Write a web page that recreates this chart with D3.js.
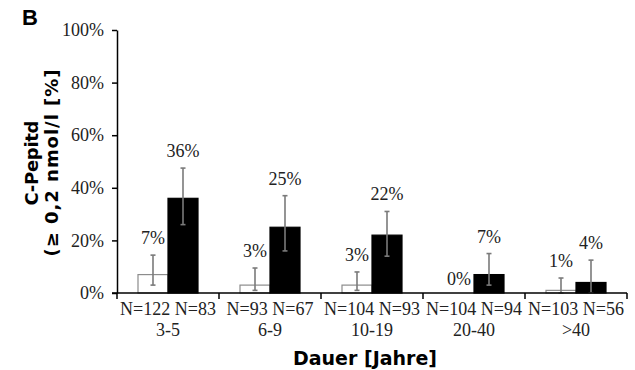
<!DOCTYPE html>
<meta charset="utf-8">
<style>
    body { margin: 0; background: #fff; }
    svg { display: block; }
    .tick text, .lbl, .cat { font-family: "Liberation Serif", "Times New Roman", serif; fill: #222; }
    .title { font-family: "DejaVu Sans", Verdana, sans-serif; font-weight: bold; fill: #000; }
    .axis path, .axis line { stroke: #000; stroke-width: 1.5; }
</style>
<body>
<script src="https://cdn.jsdelivr.net/npm/d3@7"></script>
<script>
    // data
    var categories = ["3-5", "6-9", "10-19", "20-40", ">40"];
    var nWhite = [122, 93, 104, 104, 103];
    var nBlack = [83, 67, 93, 94, 56];
    var valWhite = [7, 3, 3, 0, 1];
    var valBlack = [36, 25, 22, 7, 4];
    var errWhiteLo = [3, 1, 1, 0, 0];
    var errWhiteHi = [14.4, 9.5, 8, 0, 5.7];
    var errBlackLo = [26, 16, 14, 3, 0];
    var errBlackHi = [47.5, 37, 31, 15, 12.5];
    var yTicks = [0, 20, 40, 60, 80, 100];

    var width = 635, height = 370;
    var mLeft = 117, mRight = 627, mTop = 30, mBottom = 293;

    var svg = d3.select("body").append("svg")
        .attr("width", width)
        .attr("height", height);

    var x0 = d3.scaleBand().domain(categories).range([mLeft, mRight]);
    var x1 = d3.scaleBand().domain(["w", "b"]).range([0, x0.bandwidth()])
        .paddingInner(0).paddingOuter(0.7);
    var y = d3.scaleLinear().domain([0, 100]).range([mBottom, mTop]);

    var rows = categories.map(function(c, i) {
        return {
            cat: c,
            bars: [
                {key: "w", v: valWhite[i], lo: errWhiteLo[i], hi: errWhiteHi[i]},
                {key: "b", v: valBlack[i], lo: errBlackLo[i], hi: errBlackHi[i]}
            ],
            label: "N=" + nWhite[i] + " N=" + nBlack[i]
        };
    });

    var g = svg.selectAll("g.grp").data(rows).enter().append("g")
        .attr("class", "grp")
        .attr("transform", function(d) { return "translate(" + x0(d.cat) + ",0)"; });

    var bar = g.selectAll("g.bar").data(function(d) { return d.bars; }).enter().append("g");

    bar.append("rect")
        .attr("x", function(d) { return x1(d.key); })
        .attr("y", function(d) { return y(d.v); })
        .attr("width", x1.bandwidth())
        .attr("height", function(d) { return y(0) - y(d.v); })
        .attr("fill", function(d) { return d.key == "w" ? "#fff" : "#000"; })
        .attr("stroke", function(d) { return d.key == "w" ? "#8c8c8c" : "#000"; })
        .attr("stroke-width", 1.2);

    // error bars
    var eb = bar.filter(function(d) { return d.hi > d.lo; });
    var cx = function(d) { return x1(d.key) + x1.bandwidth() / 2; };
    eb.append("line")
        .attr("x1", cx).attr("x2", cx)
        .attr("y1", function(d) { return y(d.lo); })
        .attr("y2", function(d) { return y(d.hi); })
        .attr("stroke", "#7a7a7a").attr("stroke-width", 1.6);
    ["lo", "hi"].forEach(function(k) {
        eb.append("line")
            .attr("x1", function(d) { return cx(d) - 2.5; })
            .attr("x2", function(d) { return cx(d) + 2.5; })
            .attr("y1", function(d) { return y(d[k]); })
            .attr("y2", function(d) { return y(d[k]); })
            .attr("stroke", "#7a7a7a").attr("stroke-width", 1.6);
    });

    bar.append("text")
        .attr("class", "lbl")
        .attr("x", cx)
        .attr("y", function(d) { return y(Math.max(d.hi, d.v)) - (d.hi > 0 ? 11 : 8); })
        .attr("text-anchor", "middle")
        .style("font-size", "18px")
        .text(function(d) { return d.v + "%"; });

    // y axis
    var yAxis = d3.axisLeft(y).tickValues(yTicks).tickSize(5).tickSizeOuter(0)
        .tickFormat(function(d) { return d + "%"; });
    var ya = svg.append("g").attr("class", "axis")
        .attr("transform", "translate(" + mLeft + ",0)")
        .call(yAxis);
    ya.selectAll(".tick text").attr("x", -13).style("font-size", "18px");

    // x axis with ticks between categories
    var xa = svg.append("g").attr("class", "axis");
    xa.append("line")
        .attr("x1", mLeft - 5).attr("x2", mRight)
        .attr("y1", y(0)).attr("y2", y(0));
    var bounds = categories.map(function(c) { return x0(c); }).concat([mRight]);
    xa.selectAll("line.xt").data(bounds).enter().append("line")
        .attr("x1", function(d) { return d; }).attr("x2", function(d) { return d; })
        .attr("y1", y(0)).attr("y2", y(0) + 6);

    var cl = svg.selectAll("text.cat").data(rows).enter().append("text")
        .attr("class", "cat")
        .attr("text-anchor", "middle")
        .style("font-size", "18px");
    cl.append("tspan")
        .attr("x", function(d) { return x0(d.cat) + x0.bandwidth() / 2; })
        .attr("y", 315)
        .text(function(d) { return d.label; });
    cl.append("tspan")
        .attr("x", function(d) { return x0(d.cat) + x0.bandwidth() / 2; })
        .attr("y", 336)
        .text(function(d) { return d.cat; });

    // titles
    svg.append("text").attr("class", "title")
        .attr("x", 365).attr("y", 365)
        .attr("text-anchor", "middle")
        .style("font-size", "19px")
        .text("Dauer [Jahre]");

    var yt = svg.append("text").attr("class", "title")
        .attr("transform", "translate(0,163) rotate(-90)")
        .attr("text-anchor", "middle")
        .style("font-size", "18px");
    yt.append("tspan").attr("x", 0).attr("y", 38)
        .attr("textLength", 85).attr("lengthAdjust", "spacing")
        .text("C-Pepitd");
    yt.append("tspan").attr("x", 0).attr("y", 58)
        .attr("textLength", 187).attr("lengthAdjust", "spacing")
        .text("(\u2265 0,2 nmol/l [%]");

    svg.append("text")
        .attr("x", 22).attr("y", 25)
        .style("font-family", "Liberation Sans, Arial, sans-serif")
        .style("font-weight", "bold")
        .style("font-size", "22px")
        .text("B");
</script>
</body>
